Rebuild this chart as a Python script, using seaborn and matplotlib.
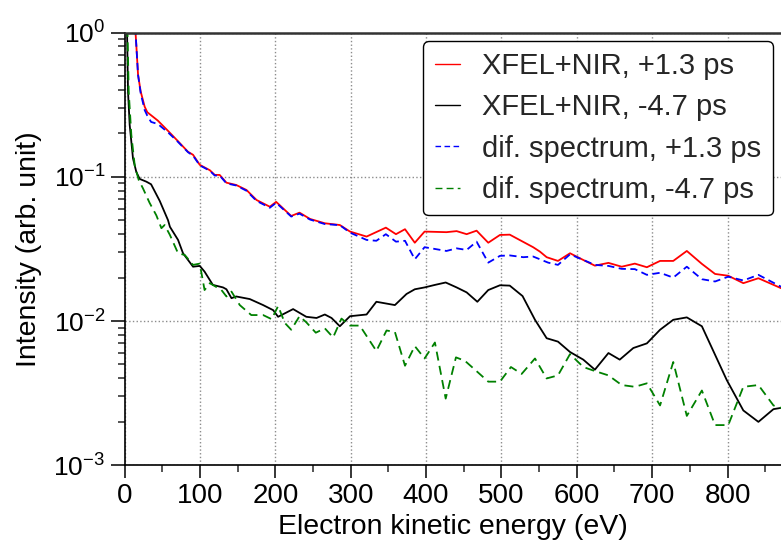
import matplotlib
matplotlib.use("Agg")
import matplotlib.pyplot as plt
import seaborn as sns
from matplotlib.ticker import LogLocator, MultipleLocator, LogFormatterSciNotation, NullFormatter

# ---- data (energy in eV, intensity arb. unit) ----
red_e = [13.0, 15.4, 17.7, 21.2, 26.5, 30, 44, 57.5, 70, 84, 90.7, 99.6, 113, 119.5, 126, 135, 148,
         161.6, 175, 192.6, 201, 221, 232, 246, 265.6, 285.5, 299, 321, 346.6, 360, 372, 385, 398,
         427, 440.5, 453.8, 467, 482.5, 498, 511, 542, 551, 560, 575, 591, 608.6, 624, 642, 659.6,
         677, 693, 710.5, 728, 746, 766, 783.5, 801, 821, 841, 871]
red_v = [1.3, 0.82, 0.51, 0.39, 0.306, 0.28, 0.245, 0.208, 0.178, 0.149, 0.142, 0.121, 0.111, 0.103,
         0.103, 0.091, 0.0877, 0.081, 0.069, 0.062, 0.067, 0.0535, 0.0564, 0.051, 0.0476, 0.0463,
         0.0417, 0.0385, 0.0444, 0.040, 0.0433, 0.0349, 0.0417, 0.0413, 0.0420, 0.040, 0.0423,
         0.0349, 0.0395, 0.0397, 0.0325, 0.0303, 0.0277, 0.0261, 0.0295, 0.0265, 0.0242, 0.0253,
         0.0238, 0.025, 0.0236, 0.0261, 0.0261, 0.0306, 0.0249, 0.0212, 0.0206, 0.0183, 0.0198,
         0.0169]

blue_e = [13.0, 15.4, 17.7, 21.2, 26.5, 30, 35, 44, 57.5, 70, 84, 90.7, 99.6, 113, 119.5, 126, 135,
          148, 161.6, 175, 192.6, 201, 221, 232, 246, 265.6, 285.5, 299, 321, 334, 346.6, 360, 372,
          385, 398, 427, 440.5, 453.8, 467, 482.5, 498, 511, 529, 542, 551, 562, 575, 591, 608.6,
          624, 642, 659.6, 677, 693, 710.5, 728, 746, 766, 783.5, 801, 821, 841, 871]
blue_v = [1.3, 0.82, 0.51, 0.38, 0.29, 0.265, 0.24, 0.232, 0.203, 0.176, 0.148, 0.14, 0.12, 0.11,
          0.102, 0.102, 0.09, 0.087, 0.08, 0.068, 0.061, 0.066, 0.053, 0.0555, 0.0505, 0.047,
          0.0462, 0.041, 0.0365, 0.036, 0.040, 0.0355, 0.036, 0.0268, 0.0325, 0.0306, 0.0319,
          0.0311, 0.0355, 0.0254, 0.0283, 0.0285, 0.0277, 0.028, 0.0268, 0.0254, 0.0245, 0.029,
          0.0265, 0.0245, 0.0241, 0.023, 0.0229, 0.0209, 0.0216, 0.020, 0.0238, 0.0195, 0.0188,
          0.0203, 0.0191, 0.0209, 0.0173]

black_e = [1.0, 4.4, 6.6, 11, 15.4, 19.9, 28.7, 35, 46.5, 57.5, 60, 70.8, 77.4, 90.7, 99.6, 106, 117,
           130.5, 135, 141.7, 148, 166, 183.7, 197, 203.6, 223.5, 241, 254.6, 265.6, 274.5, 285.5,
           299, 321, 334, 358.6, 374, 385, 398, 411.7, 426, 440.5, 453.8, 468, 482.5, 498, 511,
           528, 544.5, 560, 575, 591, 608.6, 624, 642, 657, 675, 693, 710.5, 728, 746, 766, 799,
           821, 841, 861, 871]
black_v = [5.0, 0.39, 0.229, 0.134, 0.108, 0.0966, 0.0925, 0.0887, 0.068, 0.05, 0.045, 0.0365,
           0.0295, 0.0238, 0.0241, 0.022, 0.0178, 0.0171, 0.0166, 0.0144, 0.0148, 0.0142, 0.0129,
           0.0119, 0.0107, 0.0121, 0.0107, 0.0105, 0.0111, 0.0105, 0.0092, 0.0108, 0.0111, 0.0136,
           0.0129, 0.0154, 0.0166, 0.0171, 0.0178, 0.0185, 0.0171, 0.0158, 0.0136, 0.0164, 0.0177,
           0.0176, 0.0149, 0.0102, 0.0076, 0.0072, 0.0061, 0.0054, 0.0046, 0.006, 0.0054, 0.0065,
           0.007, 0.0087, 0.0102, 0.0106, 0.0092, 0.0039, 0.0024, 0.002, 0.00245, 0.0025]

green_e = [1.0, 5.3, 8.8, 13.3, 18.6, 24.3, 33, 42, 48.7, 53, 60, 70.8, 79.7, 90.7, 99.6, 106, 113,
           128.4, 135, 141.7, 152.7, 168, 183.7, 195, 203.6, 212.5, 221, 232, 241, 253.6, 265.6,
           276.6, 287.7, 299, 312, 334, 347.5, 358.6, 372, 385, 398, 411.7, 426, 439.6, 451.5,
           464.8, 482.5, 498, 512.6, 526.8, 544.5, 560, 575, 591, 608.6, 624, 642, 659.6, 677, 693,
           710.5, 728, 746, 766, 783.5, 801, 821, 841, 861, 871]
green_v = [5.0, 0.39, 0.195, 0.12, 0.095, 0.083, 0.066, 0.054, 0.044, 0.0463, 0.0395, 0.0295,
           0.0287, 0.0245, 0.025, 0.0164, 0.0183, 0.0164, 0.0148, 0.016, 0.0129, 0.011, 0.011,
           0.0103, 0.0127, 0.0097, 0.0087, 0.0108, 0.0098, 0.0083, 0.0089, 0.0077, 0.0104, 0.0093,
           0.0093, 0.0062, 0.0086, 0.0084, 0.0049, 0.0067, 0.0055, 0.0071, 0.0029, 0.0056, 0.0053,
           0.0046, 0.0038, 0.0038, 0.0048, 0.0043, 0.0055, 0.004, 0.0042, 0.0059, 0.0048, 0.0045,
           0.0042, 0.0036, 0.0035, 0.0037, 0.0026, 0.0052, 0.0022, 0.0033, 0.0019, 0.0019, 0.0035,
           0.0036, 0.0026, 0.0025]

labels = ["XFEL+NIR, +1.3 ps", "XFEL+NIR, -4.7 ps", "dif. spectrum, +1.3 ps", "dif. spectrum, -4.7 ps"]
x_ticks = [0, 100, 200, 300, 400, 500, 600, 700, 800]

# ---- style ----
sns.set_theme(style="ticks")
plt.rcParams['font.family'] = ['Liberation Sans', 'DejaVu Sans']
plt.rcParams['mathtext.fontset'] = 'custom'
plt.rcParams['mathtext.rm'] = 'Liberation Sans'
plt.rcParams['mathtext.it'] = 'Liberation Sans:italic'
plt.rcParams['mathtext.bf'] = 'Liberation Sans:bold'

W, H = 781, 543
fig = plt.figure(figsize=(W / 100, H / 100), dpi=100)
left, right, top, bottom = 124.7, 781, 32.5, 465.3
ax = fig.add_axes([left / W, 1 - bottom / H, (right - left) / W, (bottom - top) / H])

lw = 1.3
sns.lineplot(x=red_e, y=red_v, ax=ax, color="#ff0000", lw=lw, label=labels[0], sort=False, estimator=None)
sns.lineplot(x=black_e, y=black_v, ax=ax, color="#000000", lw=lw, label=labels[1], sort=False, estimator=None)
sns.lineplot(x=blue_e, y=blue_v, ax=ax, color="#0000ff", lw=lw, label=labels[2], sort=False,
             estimator=None, linestyle=(0, (4, 2.5)))
sns.lineplot(x=green_e, y=green_v, ax=ax, color="#008000", lw=lw, label=labels[3], sort=False,
             estimator=None, linestyle=(0, (5, 3)))

ax.set_yscale("log")
ax.set_ylim(1e-3, 1)
ax.set_xlim(0, 871)
ax.set_xticks(x_ticks)
ax.xaxis.set_minor_locator(MultipleLocator(50))
ax.yaxis.set_major_locator(LogLocator(base=10))
ax.yaxis.set_major_formatter(LogFormatterSciNotation())
ax.yaxis.set_minor_locator(LogLocator(base=10, subs=range(2, 10)))
ax.yaxis.set_minor_formatter(NullFormatter())

ax.grid(True, which="major", linestyle=":", color="#8c8c8c", linewidth=1.0)
ax.tick_params(axis="x", which="major", direction="out", length=9.5, width=1.1, labelsize=20, pad=3,
               colors="black", bottom=True, top=False)
ax.tick_params(axis="x", which="minor", direction="out", length=5, width=1.1, bottom=True, top=False)
ax.tick_params(axis="y", which="major", direction="out", length=10, width=1.1, labelsize=19, pad=4,
               colors="black", left=True, right=False)
ax.tick_params(axis="y", which="minor", direction="out", length=5, width=1.1, left=True, right=False)

for s in ["left", "bottom"]:
    ax.spines[s].set_linewidth(1.2)
    ax.spines[s].set_color("black")
ax.spines["top"].set_linewidth(1.8)
ax.spines["top"].set_color("#333333")
ax.spines["right"].set_visible(False)

ax.set_xlabel("Electron kinetic energy (eV)", fontsize=20.5, labelpad=4, color="black")
ax.set_ylabel("Intensity (arb. unit)", fontsize=20.5, labelpad=8, color="black")

leg = ax.legend(loc="upper right", fontsize=21, frameon=True, fancybox=True, framealpha=1,
                edgecolor="black", handlelength=0.86, handletextpad=0.75, labelspacing=0.45,
                borderaxespad=0.28, borderpad=0.4)
leg.get_frame().set_linewidth(1.0)
for ln in leg.get_lines():
    ln.set_linewidth(1.0)

fig.savefig("out.png", dpi=100)
